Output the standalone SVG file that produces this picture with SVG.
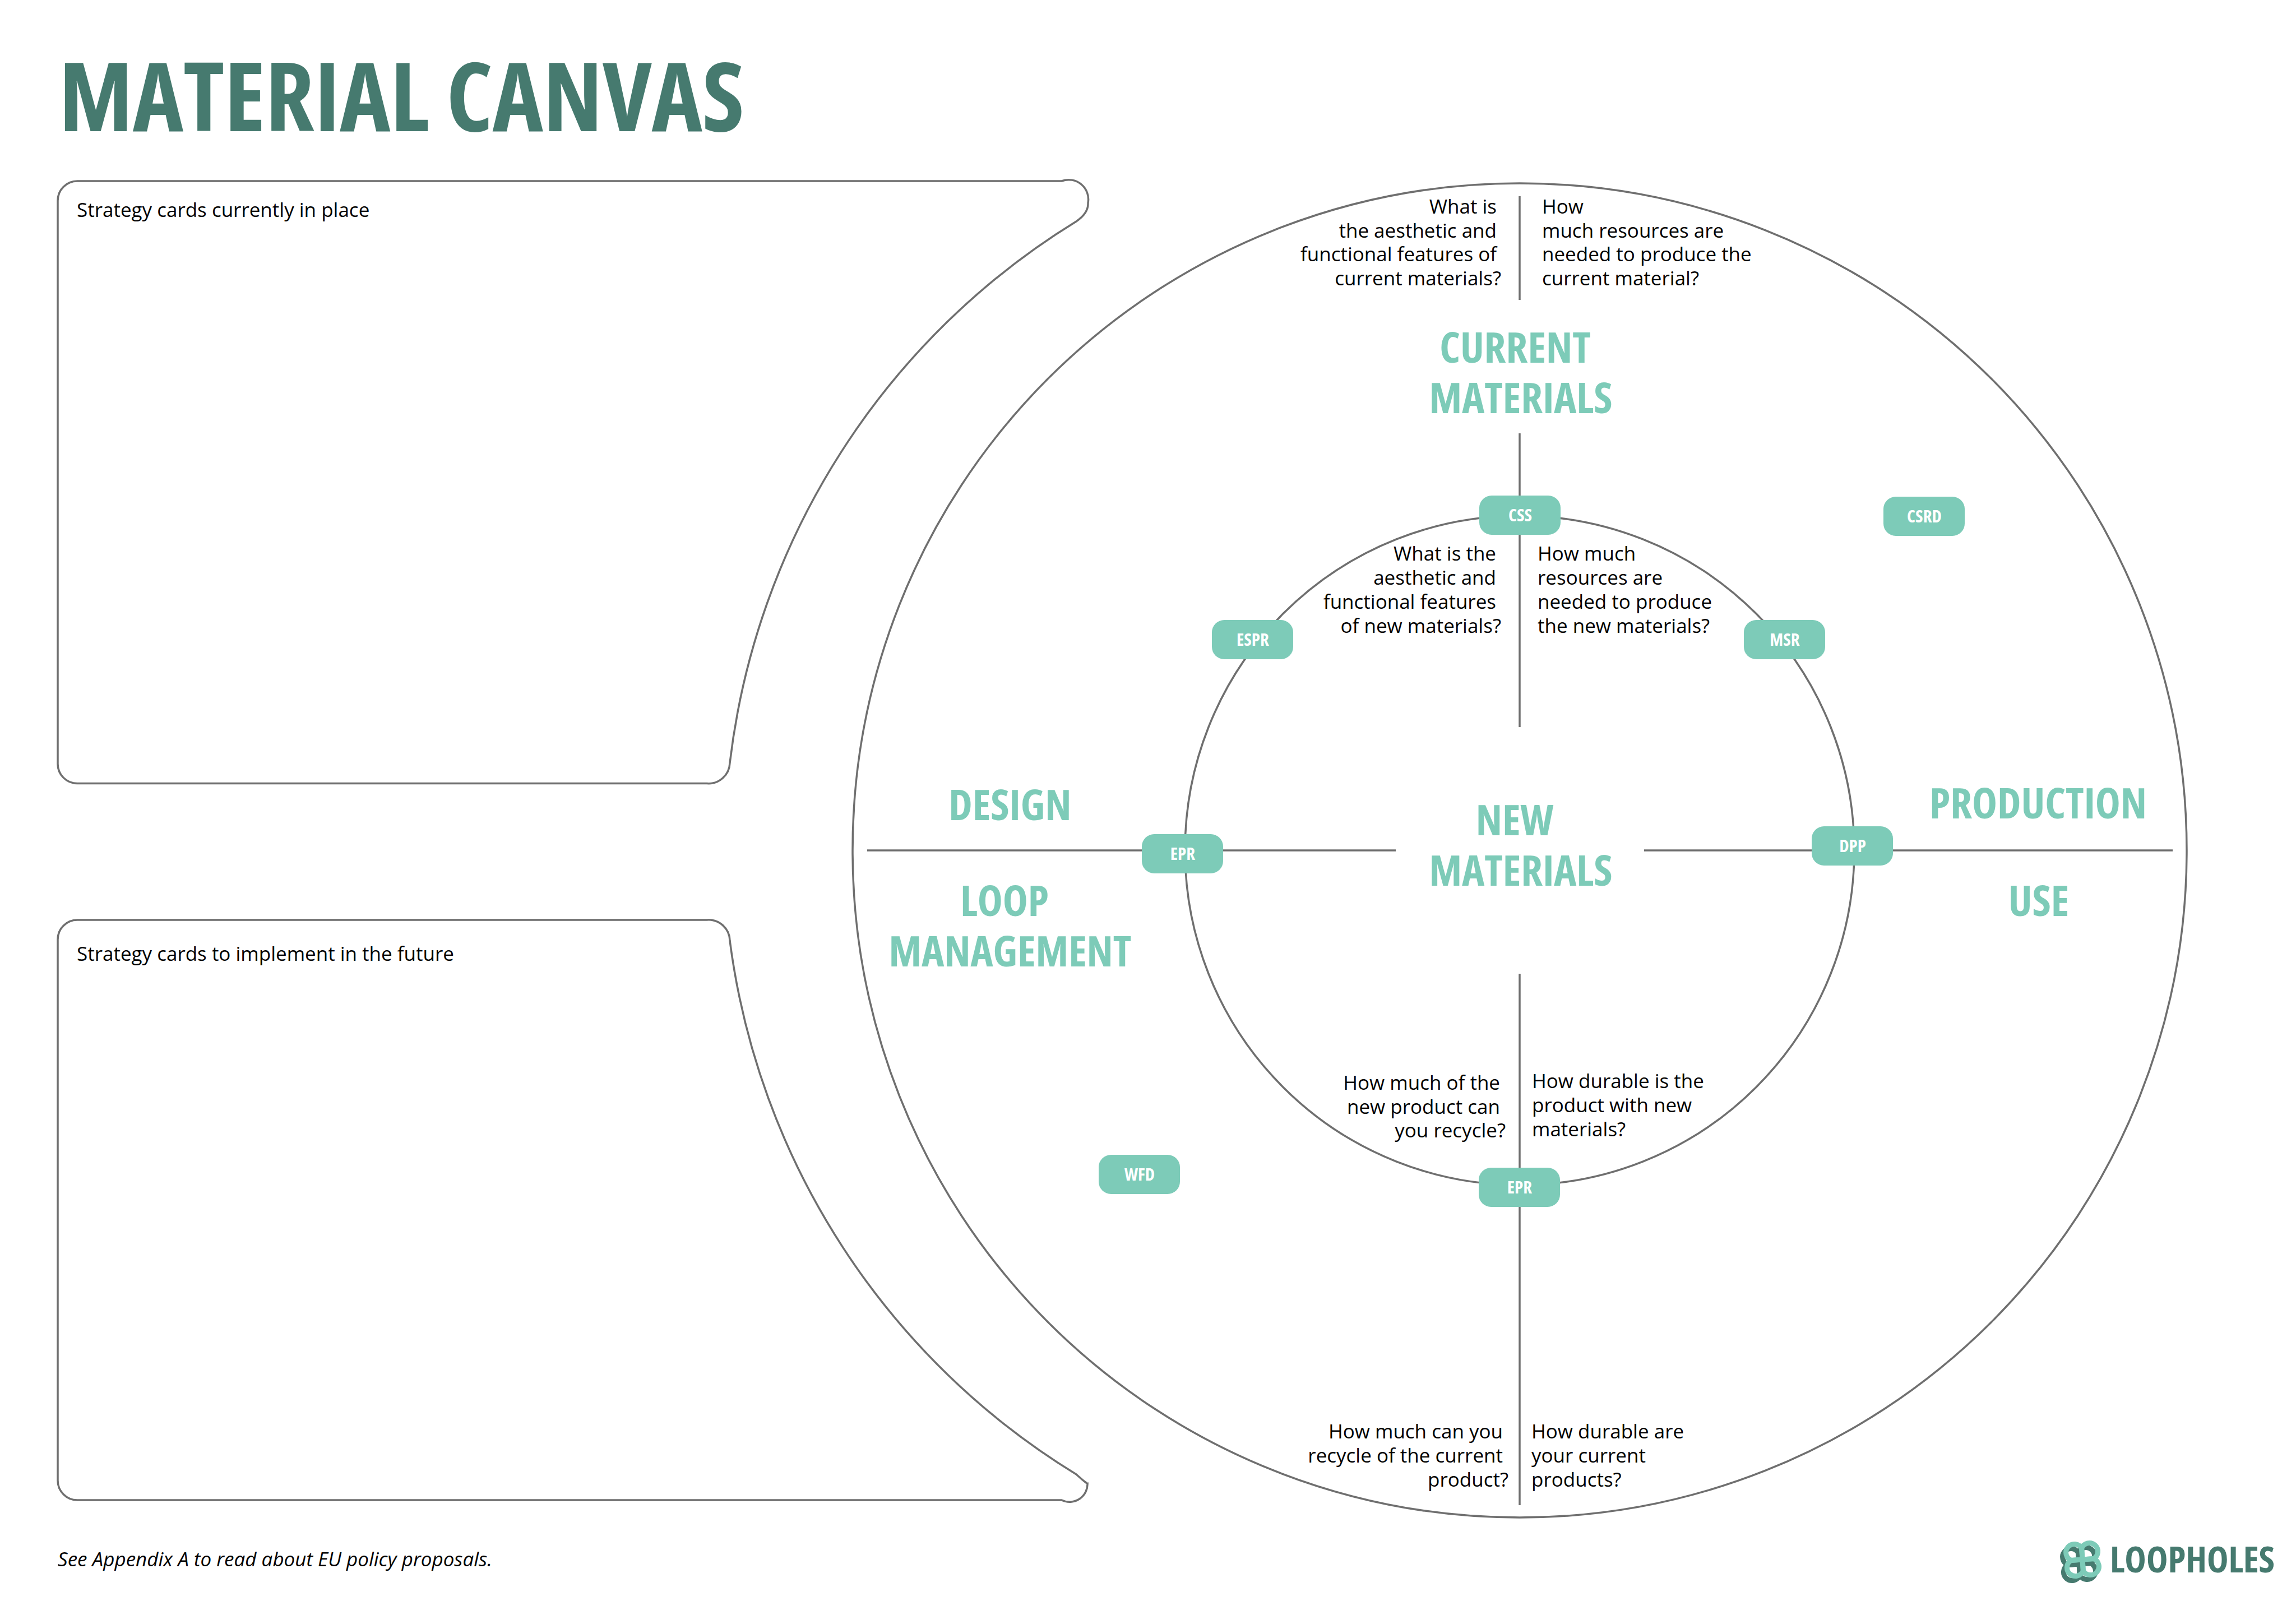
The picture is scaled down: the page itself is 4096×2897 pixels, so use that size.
<svg xmlns="http://www.w3.org/2000/svg" xmlns:xlink="http://www.w3.org/1999/xlink" width="4096" height="2897" viewBox="0 0 4096 2897">
<style>
.l{fill:none;stroke:#6f6f6f;stroke-width:3.5}
.q{font-family:"Open Sans",sans-serif;font-size:35px;fill:#000}
.e{text-anchor:end}
.h{font-family:"Open Sans",sans-serif;font-weight:700;font-stretch:75%;font-size:76px;fill:#7dcbb8;text-anchor:middle}
.p{fill:#7dcbb8}
.t{font-family:"Open Sans",sans-serif;font-weight:700;font-stretch:75%;font-size:31px;fill:#fff;text-anchor:middle}
</style>
<defs>
<g id="clover" fill="none" stroke-width="9" stroke-linejoin="round">
<path id="petal" d="M0 0V-20A15 15 0 1 1 20 0Z"/>
<use xlink:href="#petal" transform="rotate(90)"/>
<use xlink:href="#petal" transform="rotate(180)"/>
<use xlink:href="#petal" transform="rotate(270)"/>
</g>
<rect id="pill" width="145" height="70" rx="22" ry="22" class="p"/>
</defs>
<rect width="4096" height="2897" fill="#fff"/>
<g id="title"><text x="105" y="234" font-family="Open Sans, sans-serif" font-weight="700" font-size="171" font-stretch="75%" fill="#467a6f">MATERIAL CANVAS</text></g>
<g id="connectors">
<line class="l" x1="2711" y1="350" x2="2711" y2="535"/>
<line class="l" x1="2711" y1="773" x2="2711" y2="1297"/>
<line class="l" x1="2711" y1="1737" x2="2711" y2="2685"/>
<line class="l" x1="1547" y1="1517" x2="2490" y2="1517"/>
<line class="l" x1="2933" y1="1517" x2="3876" y2="1517"/>
</g>
<g id="outer-circle"><circle class="l" cx="2711" cy="1517" r="1190"/></g>
<g id="inner-circle"><circle class="l" cx="2711" cy="1517" r="597"/></g>
<g id="current-card">
<path class="l" d="M138 323H1894A35 35 0 0 1 1941 362Q1942 380 1920 395A1315 1315 0 0 0 1302 1361A38 38 0 0 1 1261 1397.6H138A35 35 0 0 1 103 1362V358A35 35 0 0 1 138 323Z"/>
<text class="q" x="137" y="387">Strategy cards currently in place</text>
</g>
<g id="future-card">
<path class="l" d="M138 1641H1261A38 38 0 0 1 1302 1678A1315 1315 0 0 0 1920 2630Q1942 2650 1940 2645A32 32 0 0 1 1894 2676H138A35 35 0 0 1 103 2641V1676A35 35 0 0 1 138 1641Z"/>
<text class="q" x="137" y="1714">Strategy cards to implement in the future</text>
</g>
<g id="q-top-left">
<text class="q e" x="2670" y="381">What is</text><text class="q e" x="2670" y="424">the aesthetic and</text><text class="q e" x="2670" y="466">functional features of</text><text class="q e" x="2678" y="509">current materials?</text>
</g>
<g id="q-top-right">
<text class="q" x="2751" y="381">How</text><text class="q" x="2751" y="424">much resources are</text><text class="q" x="2751" y="466">needed to produce the</text><text class="q" x="2751" y="509">current material?</text>
</g>
<g id="q-in-left">
<text class="q e" x="2669" y="1000">What is the</text><text class="q e" x="2669" y="1043">aesthetic and</text><text class="q e" x="2669" y="1086">functional features</text><text class="q e" x="2678" y="1129">of new materials?</text>
</g>
<g id="q-in-right">
<text class="q" x="2743" y="1000">How much</text><text class="q" x="2743" y="1043">resources are</text><text class="q" x="2743" y="1086">needed to produce</text><text class="q" x="2743" y="1129">the new materials?</text>
</g>
<g id="q-low-left">
<text class="q e" x="2676" y="1944">How much of the</text><text class="q e" x="2676" y="1987">new product can</text><text class="q e" x="2686" y="2029">you recycle?</text>
</g>
<g id="q-low-right">
<text class="q" x="2733" y="1941">How durable is the</text><text class="q" x="2733" y="1984">product with new</text><text class="q" x="2733" y="2027">materials?</text>
</g>
<g id="q-bot-left">
<text class="q e" x="2681" y="2566">How much can you</text><text class="q e" x="2681" y="2609">recycle of the current</text><text class="q e" x="2691" y="2652">product?</text>
</g>
<g id="q-bot-right">
<text class="q" x="2732" y="2566">How durable are</text><text class="q" x="2732" y="2609">your current</text><text class="q" x="2732" y="2652">products?</text>
</g>
<g id="h-current"><text class="h" x="2703" y="647">CURRENT</text><text class="h" x="2713" y="737">MATERIALS</text></g>
<g id="h-new"><text class="h" x="2702" y="1490">NEW</text><text class="h" x="2713" y="1580">MATERIALS</text></g>
<g id="h-design"><text class="h" x="1802" y="1463">DESIGN</text></g>
<g id="h-loop"><text class="h" x="1792" y="1634">LOOP</text><text class="h" x="1802" y="1724">MANAGEMENT</text></g>
<g id="h-production"><text class="h" x="3636" y="1460">PRODUCTION</text></g>
<g id="h-use"><text class="h" x="3637" y="1634">USE</text></g>
<g id="pill-css"><use xlink:href="#pill" x="2639" y="884"/><text class="t" x="2712" y="930">CSS</text></g>
<g id="pill-espr"><use xlink:href="#pill" x="2162" y="1106"/><text class="t" x="2235" y="1152">ESPR</text></g>
<g id="pill-msr"><use xlink:href="#pill" x="3111" y="1106"/><text class="t" x="3184" y="1152">MSR</text></g>
<g id="pill-dpp"><use xlink:href="#pill" x="3232" y="1474"/><text class="t" x="3305" y="1520">DPP</text></g>
<g id="pill-epr-left"><use xlink:href="#pill" x="2037" y="1488"/><text class="t" x="2110" y="1534">EPR</text></g>
<g id="pill-csrd"><use xlink:href="#pill" x="3360" y="886"/><text class="t" x="3433" y="932">CSRD</text></g>
<g id="pill-epr-bottom"><use xlink:href="#pill" x="2638" y="2083"/><text class="t" x="2711" y="2129">EPR</text></g>
<g id="pill-wfd"><use xlink:href="#pill" x="1960" y="2060"/><text class="t" x="2033" y="2106">WFD</text></g>
<g id="footnote"><text x="103" y="2794" font-family="Open Sans, sans-serif" font-style="italic" font-size="35">See Appendix A to read about EU policy proposals.</text></g>
<g id="logo">
<use xlink:href="#clover" stroke="#467a6f" transform="translate(3709 2790) rotate(-4)"/>
<use xlink:href="#clover" stroke="#7dcbb8" transform="translate(3715 2782) rotate(-4)"/>
<text x="3764" y="2805" font-family="Open Sans, sans-serif" font-weight="700" font-stretch="75%" font-size="65" fill="#467a6f">LOOPHOLES</text>
</g>
</svg>
